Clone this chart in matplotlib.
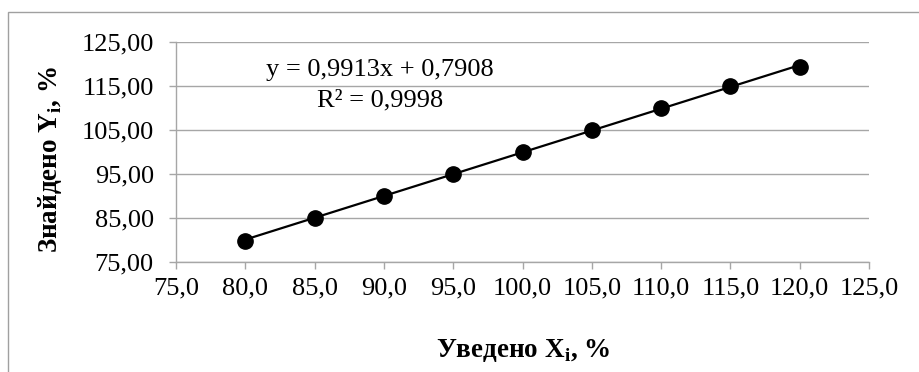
import matplotlib
matplotlib.use("Agg")
import matplotlib.pyplot as plt
from matplotlib.patches import Rectangle
import numpy as np

x_vals = [80, 85, 90, 95, 100, 105, 110, 115, 120]
y_vals = [79.8, 85.0, 90.1, 95.0, 100.1, 105.0, 110.1, 115.1, 119.4]
slope = 0.9913
intercept = 0.7908
r2_text = "0,9998"
x_ticks = [75, 80, 85, 90, 95, 100, 105, 110, 115, 120, 125]
y_ticks = [75, 85, 95, 105, 115, 125]
x_label = "Уведено X$_\\mathbf{i}$, %"
y_label = "Знайдено Y$_\\mathbf{i}$, %"

plt.rcParams['font.family'] = ['Liberation Serif', 'DejaVu Serif']
plt.rcParams['mathtext.fontset'] = 'custom'
plt.rcParams['mathtext.rm'] = 'Liberation Serif'
plt.rcParams['mathtext.bf'] = 'Liberation Serif:bold'

W, H = 920, 372
fig = plt.figure(figsize=(W / 100, H / 100), dpi=100)
fig.patch.set_facecolor('white')

# outer chart border (cut off at right/bottom)
fig.patches.append(Rectangle((8 / W, -0.1), 1.2, 1 - 12 / H + 0.1, transform=fig.transFigure,
                             fill=False, edgecolor='#a0a0a0', linewidth=1.0))

ax = fig.add_axes([176 / W, 1 - 262 / H, (869 - 176) / W, (262 - 42) / H])
ax.set_xlim(75, 125)
ax.set_ylim(75, 125)
ax.set_xticks(x_ticks)
ax.set_yticks(y_ticks)
ax.set_xticklabels([f"{v:.1f}".replace('.', ',') for v in x_ticks])
ax.set_yticklabels([f"{v:.2f}".replace('.', ',') for v in y_ticks])

ax.yaxis.grid(True, color='#a6a6a6', linewidth=1.0)
ax.set_axisbelow(True)
for s in ['top', 'right']:
    ax.spines[s].set_visible(False)
for s in ['left', 'bottom']:
    ax.spines[s].set_color('#a6a6a6')
    ax.spines[s].set_linewidth(1.0)
ax.tick_params(axis='both', direction='out', length=5, width=1.0, color='#a6a6a6',
               labelsize=19, labelcolor='black')
ax.tick_params(axis='y', pad=11)
ax.tick_params(axis='x', pad=6)

xt = np.array([min(x_vals), max(x_vals)])
ax.plot(xt, slope * xt + intercept, color='black', linewidth=1.6, zorder=3)
ax.plot(x_vals, y_vals, 'o', color='black', markersize=11, zorder=4)

eq = "y = " + f"{slope:.4f}".replace('.', ',') + "x + " + f"{intercept:.4f}".replace('.', ',')
fig.text(380 / W, 1 - 70 / H, eq, ha='center', va='center', fontsize=19)
fig.text(380 / W, 1 - 100 / H, "R² = " + r2_text, ha='center', va='center', fontsize=19)

fig.text(523 / W, 1 - 350 / H, x_label, ha='center', va='center', fontsize=19.5, fontweight='bold')
fig.text(50 / W, 1 - 160 / H, y_label, ha='center', va='center', fontsize=19.5, fontweight='bold',
         rotation=90)

fig.savefig("out.png", dpi=100)
